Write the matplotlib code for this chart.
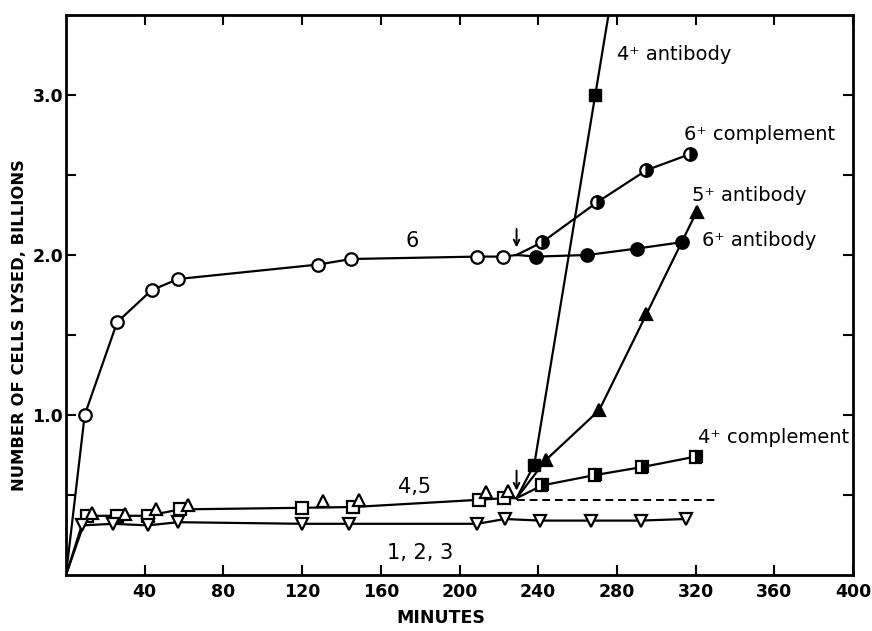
import numpy as np
import matplotlib
matplotlib.use("Agg")
import matplotlib.pyplot as plt

# cell lysis vs time, fractions 1-6 and the antibody / complement additions
t_six = [0, 9.5, 26, 43.5, 57, 128, 145, 209, 222, 229]
n_six = [0, 1.00, 1.58, 1.78, 1.85, 1.94, 1.975, 1.99, 1.99, 2.00]

t_six_ab = [229, 239, 265, 290, 313]
n_six_ab = [2.00, 1.99, 2.00, 2.04, 2.08]

t_six_comp = [229, 242, 270, 295, 317]
n_six_comp = [2.00, 2.08, 2.33, 2.53, 2.63]

t_45_sq = [0, 10.5, 25.7, 41.5, 58, 120, 146, 210, 222.5, 229]
n_45_sq = [0, 0.37, 0.37, 0.37, 0.41, 0.42, 0.425, 0.47, 0.48, 0.48]

t_45_tri = [13, 30, 45.5, 62, 130.5, 149, 213.5, 224.5]
n_45_tri = [0.39, 0.38, 0.41, 0.44, 0.46, 0.47, 0.52, 0.525]

t_123 = [0, 8, 24, 41.5, 57, 120, 144, 209, 223, 241, 267, 292, 315]
n_123 = [0, 0.31, 0.32, 0.31, 0.33, 0.32, 0.32, 0.32, 0.35, 0.34, 0.34, 0.34, 0.35]

t_4_ab = [229, 238, 269]
n_4_ab = [0.48, 0.69, 3.00]

t_5_ab = [229, 244, 271, 295, 320.5]
n_5_ab = [0.48, 0.72, 1.03, 1.63, 2.27]

t_4_comp = [229, 242, 269, 293, 320]
n_4_comp = [0.48, 0.56, 0.625, 0.675, 0.74]

t_base = [229, 332]
n_base = [0.47, 0.47]

fig = plt.figure(figsize=(8.72, 6.31), dpi=100)
ax = fig.add_axes([66 / 872, 56 / 631, 787 / 872, 560 / 631])

lw = 1.6
ms = 9
mew = 1.6
common = dict(color="black", lw=lw, ms=ms, mew=mew, mec="black")

# fraction 6 and its branches
ax.plot(t_six, n_six, marker="o", mfc="white", markevery=range(1, len(t_six) - 1), **common)
ax.plot(t_six_ab, n_six_ab, marker="o", mfc="black", markevery=range(1, len(t_six_ab)), **common)
ax.plot(t_six_comp, n_six_comp, marker="o", mfc="black", fillstyle="right",
        markerfacecoloralt="white", markevery=range(1, len(t_six_comp)), **common)

# fractions 4,5
ax.plot(t_45_sq, n_45_sq, marker="s", mfc="white", markevery=range(1, len(t_45_sq) - 1), **common)
ax.plot(t_45_tri, n_45_tri, ls="none", marker="^", mfc="white", ms=ms, mew=mew, mec="black")

# fractions 1,2,3
ax.plot(t_123, n_123, marker="v", mfc="white", markevery=range(1, len(t_123)), **common)

# 4 + antibody, line runs on past the last point and out of the top
slope = (n_4_ab[-1] - n_4_ab[-2]) / (t_4_ab[-1] - t_4_ab[-2])
t_end = t_4_ab[-1] + (3.7 - n_4_ab[-1]) / slope
ax.plot(t_4_ab + [t_end], n_4_ab + [3.7], color="black", lw=lw)
ax.plot(t_4_ab[1:], n_4_ab[1:], ls="none", marker="s", mfc="black", ms=ms - 1, mec="black")

ax.plot(t_5_ab, n_5_ab, marker="^", mfc="black", markevery=range(1, len(t_5_ab)), **common)
ax.plot(t_4_comp, n_4_comp, marker="s", mfc="black", fillstyle="right",
        markerfacecoloralt="white", markevery=range(1, len(t_4_comp)), **common)

ax.plot(t_base, n_base, color="black", lw=1.4, ls=(0, (4, 2.5)))

# arrows marking the additions
ax.annotate("", xy=(229, 2.03), xytext=(229, 2.18),
            arrowprops=dict(arrowstyle="->", lw=1.4, color="black"))
ax.annotate("", xy=(229, 0.51), xytext=(229, 0.67),
            arrowprops=dict(arrowstyle="->", lw=1.4, color="black"))

lab = dict(fontsize=14, color="black", va="center", ha="left")
ax.text(280, 3.25, "4\u207a antibody", **lab)
ax.text(314, 2.75, "6\u207a complement", **lab)
ax.text(318, 2.37, "5\u207a antibody", **lab)
ax.text(323, 2.09, "6\u207a antibody", **lab)
ax.text(321, 0.86, "4\u207a complement", **lab)
ax.text(176, 2.09, "6", fontsize=15, ha="center", va="center")
ax.text(177, 0.55, "4,5", fontsize=15, ha="center", va="center")
ax.text(180, 0.14, "1, 2, 3", fontsize=15, ha="center", va="center")

ax.set_xlim(0, 400)
ax.set_ylim(0, 3.5)
ax.set_xticks(np.arange(40, 401, 40))
ax.set_xticklabels([str(v) for v in range(40, 401, 40)])
yt = np.arange(0.5, 3.01, 0.5)
ax.set_yticks(yt)
ax.set_yticklabels(["%.1f" % v if v % 1 == 0 else "" for v in yt])
ax.tick_params(direction="in", length=7, width=1.5, top=True, right=True,
               labelsize=12.5)
ax.tick_params(axis="x", pad=6)
ax.tick_params(axis="y", pad=2)
for t in ax.get_xticklabels() + ax.get_yticklabels():
    t.set_fontweight("bold")
for s in ax.spines.values():
    s.set_linewidth(2)

fig.text(20 / 872, 1 - 325 / 631, "NUMBER OF CELLS LYSED, BILLIONS", rotation=90,
         ha="center", va="center", fontsize=11.8, fontweight="bold")
fig.text(441 / 872, 1 - 618 / 631, "MINUTES", ha="center", va="center",
         fontsize=12.5, fontweight="bold")

fig.savefig("out.png", dpi=100)
